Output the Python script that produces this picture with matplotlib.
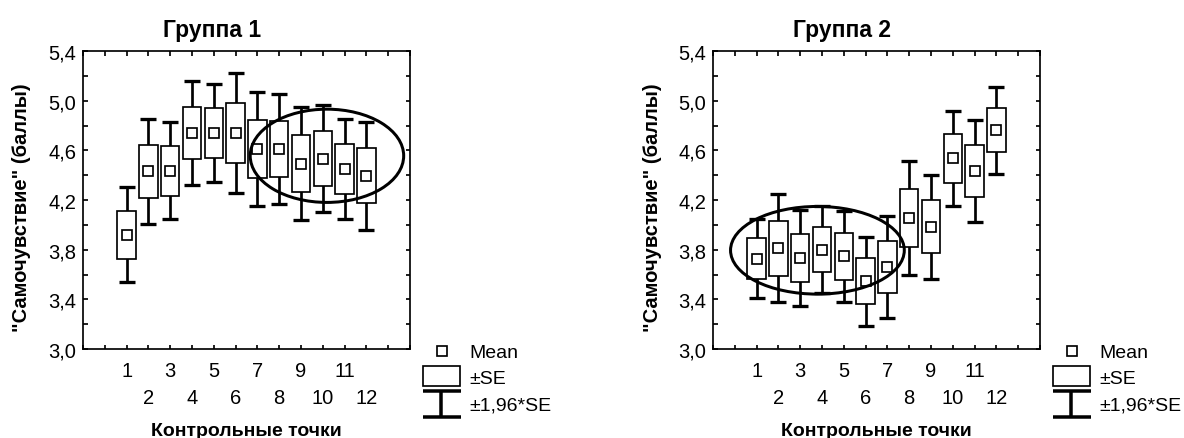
import numpy as np
import matplotlib.pyplot as plt
from matplotlib.patches import Ellipse, Rectangle
from matplotlib.ticker import MultipleLocator

plt.rcParams['font.family'] = ['Liberation Sans', 'DejaVu Sans']

# data
points = np.arange(1, 13)
point_labels = [str(p) for p in points]

group1_mean = [3.92, 4.43, 4.435, 4.74, 4.737, 4.74, 4.613, 4.61, 4.493, 4.533, 4.45, 4.395]
group1_se = [0.195, 0.216, 0.200, 0.212, 0.202, 0.245, 0.234, 0.225, 0.232, 0.221, 0.205, 0.223]

group2_mean = [3.727, 3.81, 3.733, 3.80, 3.745, 3.545, 3.66, 4.053, 3.983, 4.535, 4.432, 4.762]
group2_se = [0.163, 0.222, 0.196, 0.179, 0.188, 0.184, 0.21, 0.235, 0.213, 0.196, 0.209, 0.179]

# highlighted region: centre x, centre y, width, height (data units)
group1_ellipse = (10.19, 4.556, 7.04, 0.751)
group2_ellipse = (3.79, 3.795, 7.97, 0.706)

titles = ['Группа 1', 'Группа 2']
xlabel = 'Контрольные точки'
ylabel = '"Самочувствие" (баллы)'
ytick_vals = [3.0, 3.4, 3.8, 4.2, 4.6, 5.0, 5.4]
ytick_labels = ['3,0', '3,4', '3,8', '4,2', '4,6', '5,0', '5,4']
legend_labels = ['Mean', '±SE', '±1,96*SE']

W, H = 1184, 439
PX = 0.72  # points per pixel at dpi 100


def draw_panel(ax, mean, se, title, ell):
    mean = np.asarray(mean)
    se = np.asarray(se)
    ax.errorbar(points, mean, yerr=1.96 * se, fmt='none', ecolor='black',
                elinewidth=2.7 * PX, capsize=7.6 * PX, capthick=3.3 * PX, zorder=2)
    ax.bar(points, 2 * se, bottom=mean - se, width=0.85, facecolor='white',
           edgecolor='black', linewidth=1.7 * PX, zorder=3)
    ax.plot(points, mean, 's', ms=9.3 * PX, mfc='white', mec='black',
            mew=1.7 * PX, zorder=4)
    ax.add_patch(Ellipse(ell[:2], ell[2], ell[3], fill=False,
                         edgecolor='black', lw=3 * PX, zorder=5))

    ax.set_xlim(-1, 14)
    ax.set_ylim(3.0, 5.4)
    ax.set_xticks(points, point_labels)
    ax.xaxis.set_minor_locator(MultipleLocator(1))
    ax.set_yticks(ytick_vals, ytick_labels)
    ax.yaxis.set_minor_locator(MultipleLocator(0.2))
    ax.tick_params(which='both', direction='in', top=True, right=True,
                   length=4.5 * PX, width=1.7 * PX, labelsize=14.5, colors='black')
    ax.tick_params(axis='x', pad=9)
    ax.tick_params(axis='y', pad=5)
    # even labels go on a second row
    for tick in ax.xaxis.get_major_ticks()[1::2]:
        tick.set_pad(28)
    for sp in ax.spines.values():
        sp.set_linewidth(1.7 * PX)

    ax.set_xlabel(xlabel, fontsize=14, fontweight='bold', va='baseline')
    ax.xaxis.set_label_coords(0.5, -86 / 298)
    ax.set_ylabel(ylabel, fontsize=14.5, fontweight='bold', va='center')
    ax.yaxis.set_label_coords(-61 / 327, 0.477)
    ax.text(129 / 327, 1 + 15 / 298, title, transform=ax.transAxes,
            ha='center', va='baseline', fontsize=16.5, fontweight='bold')


fig = plt.figure(figsize=(W / 100, H / 100), dpi=100)
ax1 = fig.add_axes([83 / W, (H - 350) / H, 327 / W, 298 / H])
ax2 = fig.add_axes([713 / W, (H - 350) / H, 327 / W, 298 / H])

draw_panel(ax1, group1_mean, group1_se, titles[0], group1_ellipse)
draw_panel(ax2, group2_mean, group2_se, titles[1], group2_ellipse)

# legends, drawn in pixel space next to each panel
lax = fig.add_axes([0, 0, 1, 1], zorder=10)
lax.set_xlim(0, W)
lax.set_ylim(H, 0)
lax.axis('off')
lax.patch.set_visible(False)

for ax in (ax1, ax2):
    r = ax.get_position().x1 * W
    lax.plot(r + 32, 352, 's', ms=9.3 * PX, mfc='white', mec='black', mew=1.7 * PX)
    lax.add_patch(Rectangle((r + 13, 367), 37, 20, fill=False,
                            edgecolor='black', lw=1.7 * PX))
    for yy in (392, 418):
        lax.plot([r + 13, r + 51], [yy, yy], color='black', lw=3.5 * PX,
                 solid_capstyle='butt')
    lax.plot([r + 31, r + 31], [392, 418], color='black', lw=3.5 * PX,
             solid_capstyle='butt')
    for lbl, yy in zip(legend_labels, (354, 380, 406)):
        lax.text(r + 59, yy, lbl, ha='left', va='center', fontsize=14)

fig.savefig('out.png', dpi=100, facecolor='white')
